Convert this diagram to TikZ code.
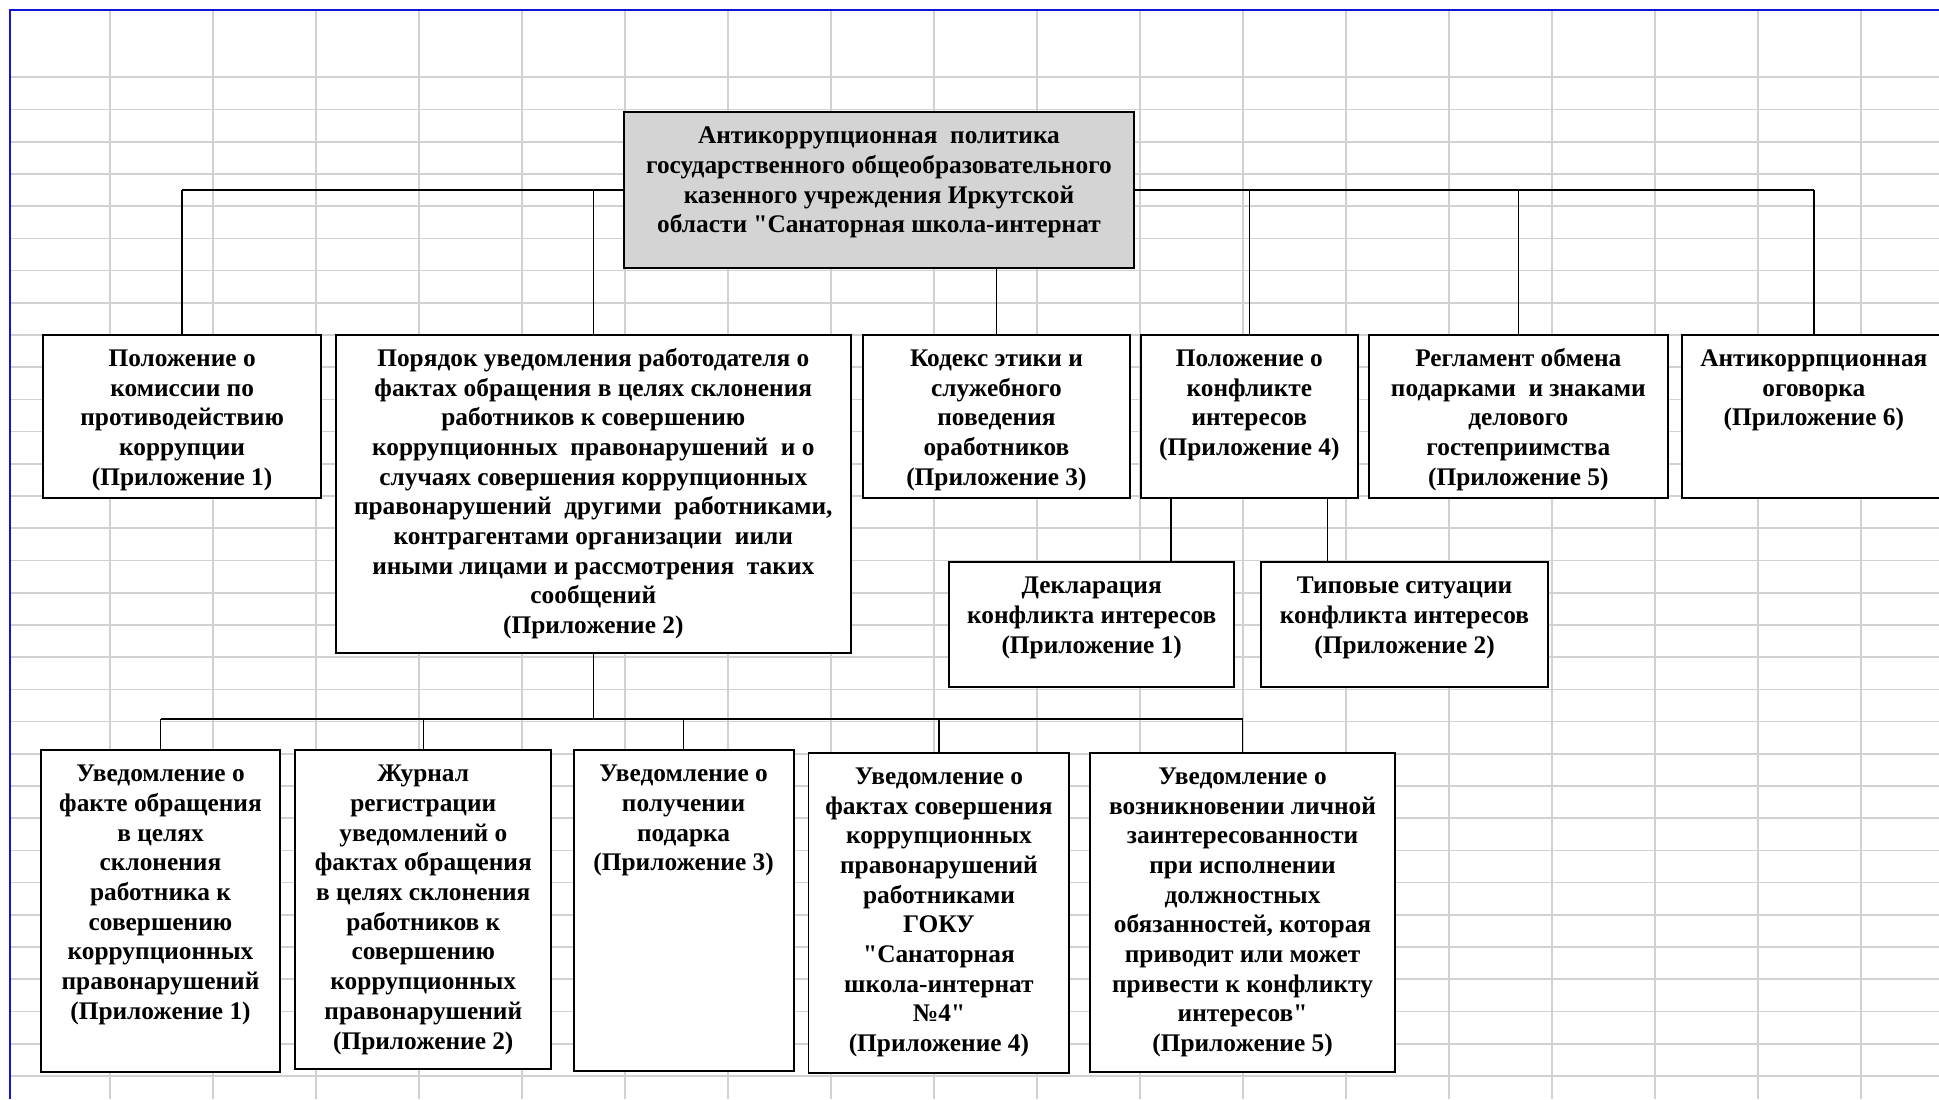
\documentclass[tikz,border=0pt]{standalone}
\usepackage{fontspec}
\setmainfont{Liberation Serif}[Ligatures=TeXOff]
\usetikzlibrary{positioning}

% text block of a box: fixed size, first line at the top
\newcommand{\cell}[3]{\parbox[c][#2pt][t]{#1pt}{\centering\rule{0pt}{25.5pt}#3}}

\begin{document}
\begin{tikzpicture}[
		x=1pt, y=-1pt,
		grid/.style={black!18, line width=1.3pt},
		box/.style={draw, fill=white, line width=1.6pt, anchor=north west, inner sep=0pt,
			font=\bfseries\fontsize{20.5}{24}\selectfont},
		link/.style={line width=1.1pt},
		bus/.style={line width=1.9pt},
	]
	\useasboundingbox (0,0) rectangle (1568,889);

	% sheet grid
	\foreach \i in {0,...,17}
		\draw[grid] (89+83.3*\i,8) -- (89+83.3*\i,889);
	\foreach \j in {0,...,31}
		\draw[grid] (8,62.5+26.05*\j) -- (1568,62.5+26.05*\j);
	\draw[line width=2pt, color={rgb,255:red,20;green,20;blue,215}] (8,889) -- (8,8) -- (1568,8);

	% root
	\node (top) [box, fill=black!17] at (504,90) {\cell{412}{126}{Антикоррупционная\ \ политика\\государственного общеобразовательного\\казенного учреждения Иркутской\\области "Санаторная школа-интернат}};

	% first level
	\node (n1) [box] at (34,270) {\cell{225}{132}{Положение о\\комиссии по\\противодействию\\коррупции\\(Приложение 1)}};
	\node (n2) [box] at (271,270) {\cell{416}{257}{Порядок уведомления работодателя о\\фактах обращения в целях склонения\\работников к совершению\\коррупционных\ \ правонарушений\ \ и о\\случаях совершения коррупционных\\правонарушений\ \ другими\ \ работниками,\\контрагентами организации\ \ иили\\иными лицами и рассмотрения\ \ таких\\сообщений\\(Приложение 2)}};
	\node (n3) [box] at (697,270) {\cell{216}{132}{Кодекс этики и\\служебного\\поведения\\оработников\\(Приложение 3)}};
	\node (n4) [box] at (922,270) {\cell{175}{132}{Положение о\\конфликте\\интересов\\(Приложение 4)}};
	\node (n5) [box] at (1106,270) {\cell{242}{132}{Регламент обмена\\подарками\ \ и знаками\\делового\\гостеприимства\\(Приложение 5)}};
	\node (n6) [box] at (1359,270) {\cell{214}{132}{Антикоррпционная\\оговорка\\(Приложение 6)}};

	% under n4
	\node (d1) [box] at (767,454) {\cell{230}{101}{Декларация\\конфликта интересов\\(Приложение 1)}};
	\node (d2) [box] at (1019,454) {\cell{232}{101}{Типовые ситуации\\конфликта интересов\\(Приложение 2)}};

	% under n2
	\node (u1) [box] at (32,606) {\cell{194}{260}{Уведомление о\\факте обращения\\в целях\\склонения\\работника к\\совершению\\коррупционных\\правонарушений\\(Приложение 1)}};
	\node (u2) [box] at (238,606) {\cell{207}{258}{Журнал\\регистрации\\уведомлений о\\фактах обращения\\в целях склонения\\работников к\\совершению\\коррупционных\\правонарушений\\(Приложение 2)}};
	\node (u3) [box] at (463,606) {\cell{178}{259}{Уведомление о\\получении\\подарка\\(Приложение 3)}};
	\node (u4) [box] at (653,608) {\cell{211}{259}{Уведомление о\\фактах совершения\\коррупционных\\правонарушений\\работниками\\ГОКУ\\"Санаторная\\школа-интернат\\№4"\\(Приложение 4)}};
	\node (u5) [box] at (881,608) {\cell{246}{258}{Уведомление о\\возникновении личной\\заинтересованности\\при исполнении\\должностных\\обязанностей, которая\\приводит или может\\привести к конфликту\\интересов"\\(Приложение 5)}};

	% connectors
	\draw[bus] (top.west) -- (top.west -| n1.north);
	\draw[bus] (top.east) -- (top.east -| n6.north);
	\foreach \n in {n1,n2,n4,n5,n6}
		\draw[link] (\n.north) -- (\n.north |- top.west);
	\draw[link] (top.south -| n3.north) -- (n3.north);

	\draw[link] ([xshift=25pt]n4.south west) -- ([xshift=25pt]n4.south west |- d1.north);
	\draw[link] ([xshift=-25pt]n4.south east) -- ([xshift=-25pt]n4.south east |- d2.north);

	\coordinate[below=53pt of n2.south] (split);
	\draw[link] (n2.south) -- (split);
	\draw[bus] (split -| u1.north) -- (split -| u5.north);
	\foreach \n in {u1,u2,u3,u4,u5}
		\draw[link] (\n.north) -- (\n.north |- split);
\end{tikzpicture}
\end{document}
